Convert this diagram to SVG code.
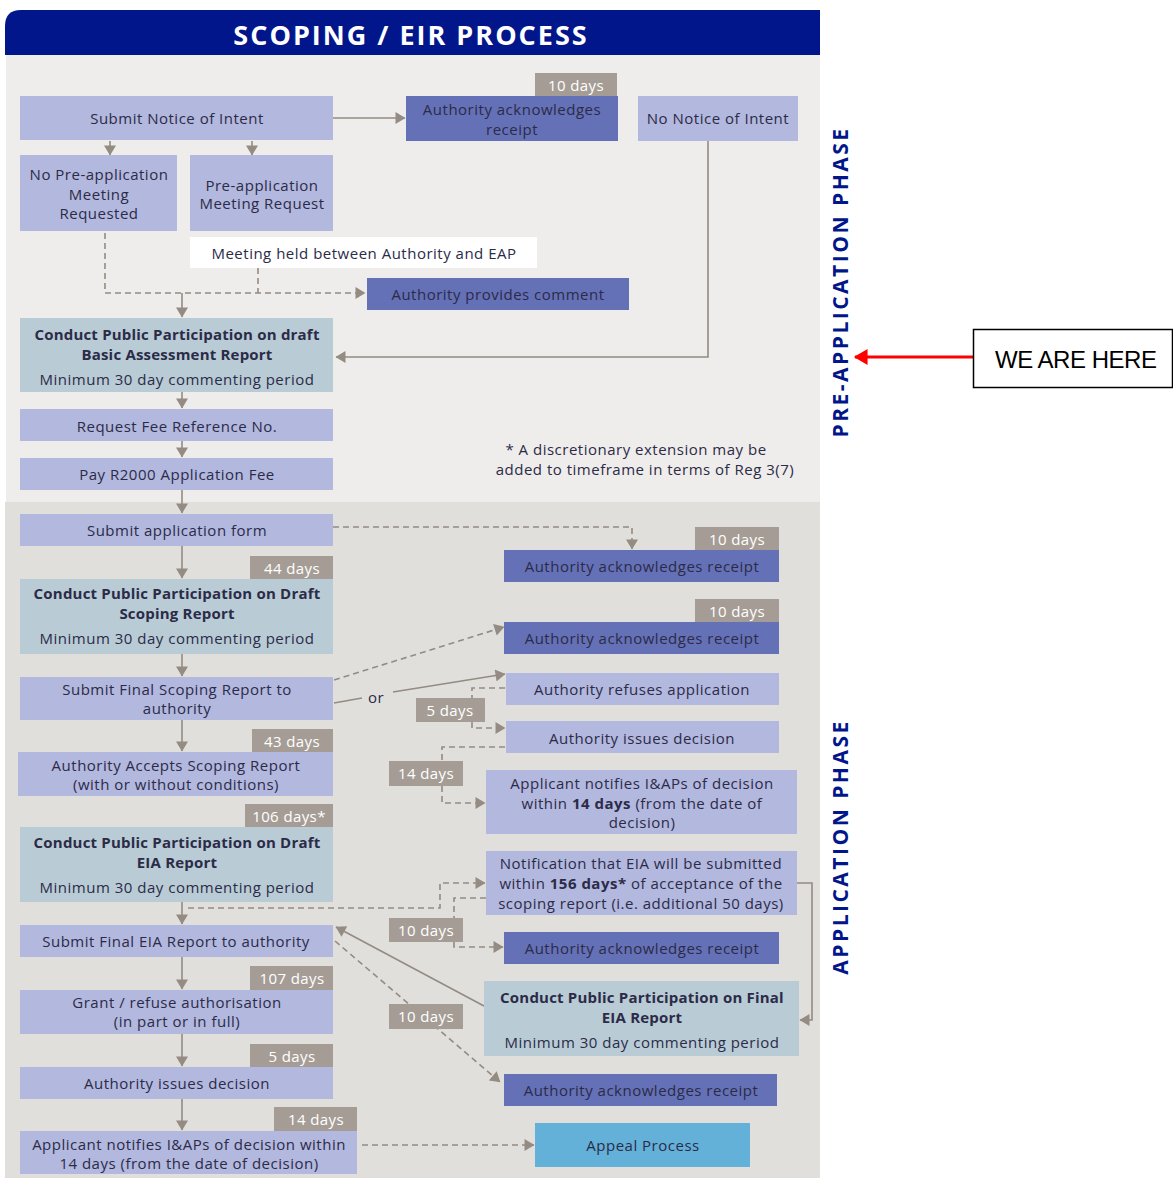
<svg xmlns="http://www.w3.org/2000/svg" width="1173" height="1178" viewBox="0 0 1173 1178">
<defs>
<style>
.t{font-family:"Open Sans","Liberation Sans",sans-serif;font-size:15px;letter-spacing:0.5px;fill:#2b2b48;text-anchor:middle;dominant-baseline:central}
.b{font-weight:bold;letter-spacing:0.2px}
.tag{font-family:"Open Sans","Liberation Sans",sans-serif;font-size:15px;letter-spacing:0.4px;fill:#ffffff;text-anchor:middle;dominant-baseline:central}
.lt{fill:#b3b8de}
.dk{fill:#6571b7}
.bg{fill:#b9cbd5}
.tg{fill:#a59d95}
.s{stroke:#948b82;stroke-width:1.6;fill:none}
.d{stroke:#948b82;stroke-width:1.6;fill:none;stroke-dasharray:6 4}
.ph{font-family:"Open Sans","Liberation Sans",sans-serif;font-weight:bold;font-size:21px;fill:#001689;text-anchor:middle;dominant-baseline:central;letter-spacing:2.5px}
</style>
<marker id="ah" viewBox="0 0 10 12" refX="9.5" refY="6" markerWidth="11" markerHeight="12" markerUnits="userSpaceOnUse" orient="auto">
<path d="M0,0 L10,6 L0,12 z" fill="#948b82"/>
</marker>
<marker id="ar" viewBox="0 0 12 14" refX="11" refY="7" markerWidth="16" markerHeight="16" markerUnits="userSpaceOnUse" orient="auto">
<path d="M0,0 L12,7 L0,14 z" fill="#ff0000"/>
</marker>
</defs>

<rect x="0" y="0" width="1173" height="1178" fill="#ffffff"/>
<g id="panels">
<rect x="6" y="55" width="814" height="447" fill="#efedeb"/>
<rect x="5" y="502" width="815" height="676" fill="#e1dfdc"/>
<path d="M5,55 L5,26 Q5,10 21,10 L820,10 L820,55 Z" fill="#00168a"/>
<text x="411" y="34" font-family="'Open Sans','Liberation Sans',sans-serif" font-weight="bold" font-size="27" fill="#ffffff" text-anchor="middle" dominant-baseline="central" letter-spacing="2">SCOPING / EIR PROCESS</text>
</g>

<g id="connectors">
<line class="s" x1="333" y1="118" x2="405" y2="118" marker-end="url(#ah)"/>
<line class="s" x1="110" y1="141" x2="110" y2="155" marker-end="url(#ah)"/>
<line class="s" x1="252" y1="141" x2="252" y2="155" marker-end="url(#ah)"/>
<polyline class="s" points="708,141 708,357 336,357" marker-end="url(#ah)"/>
<polyline class="d" points="105,233 105,293 365,293" marker-end="url(#ah)"/>
<line class="d" x1="258" y1="268" x2="258" y2="293"/>
<line class="s" x1="182" y1="293" x2="182" y2="317" marker-end="url(#ah)"/>
<line class="s" x1="182" y1="392" x2="182" y2="408" marker-end="url(#ah)"/>
<line class="s" x1="182" y1="441" x2="182" y2="457" marker-end="url(#ah)"/>
<line class="s" x1="182" y1="490" x2="182" y2="513" marker-end="url(#ah)"/>
<line class="s" x1="182" y1="546" x2="182" y2="578" marker-end="url(#ah)"/>
<line class="s" x1="182" y1="654" x2="182" y2="676" marker-end="url(#ah)"/>
<line class="s" x1="182" y1="720" x2="182" y2="751" marker-end="url(#ah)"/>
<line class="s" x1="182" y1="902" x2="182" y2="924" marker-end="url(#ah)"/>
<line class="s" x1="182" y1="957" x2="182" y2="989" marker-end="url(#ah)"/>
<line class="s" x1="182" y1="1034" x2="182" y2="1066" marker-end="url(#ah)"/>
<line class="s" x1="182" y1="1099" x2="182" y2="1130" marker-end="url(#ah)"/>
<polyline class="d" points="333,527 632,527 632,549" marker-end="url(#ah)"/>
<line class="d" x1="334" y1="680" x2="504" y2="627" marker-end="url(#ah)"/>
<line class="s" x1="334" y1="703" x2="362" y2="698"/>
<line class="s" x1="393" y1="692" x2="505" y2="674" marker-end="url(#ah)"/>
<polyline class="d" points="505,688 472,688 472,698"/>
<polyline class="d" points="472,722 472,728 505,728" marker-end="url(#ah)"/>
<polyline class="d" points="505,747 442,747 442,761"/>
<polyline class="d" points="442,786 442,803 485,803" marker-end="url(#ah)"/>
<polyline class="d" points="188,908 440,908 440,883 485,883" marker-end="url(#ah)"/>
<polyline class="d" points="486,898 454,898 454,918"/>
<polyline class="d" points="454,942 454,947 503,947" marker-end="url(#ah)"/>
<polyline class="s" points="797,883 812,883 812,1020 800,1020" marker-end="url(#ah)"/>
<line class="s" x1="484" y1="1006" x2="336" y2="927" marker-end="url(#ah)"/>
<line class="d" x1="335" y1="941" x2="500" y2="1082" marker-end="url(#ah)"/>
<line class="d" x1="362" y1="1145" x2="534" y2="1145" marker-end="url(#ah)"/>
<text class="t" x="376" y="697">or</text>
</g>

<g id="n-submit-noi"><rect class="lt" x="20" y="96" width="313" height="44"/><text class="t" x="177" y="118">Submit Notice of Intent</text></g>
<g id="n-ack1"><rect class="tg" x="535" y="73" width="82" height="23"/><text class="tag" x="576" y="85">10 days</text><rect class="dk" x="406" y="96" width="212" height="45"/><text class="t" x="512" y="109">Authority acknowledges</text><text class="t" x="512" y="129">receipt</text></g>
<g id="n-no-noi"><rect class="lt" x="638" y="96" width="160" height="45"/><text class="t" x="718" y="118">No Notice of Intent</text></g>
<g id="n-no-preapp"><rect class="lt" x="20" y="155" width="157" height="76"/><text class="t" x="99" y="174">No Pre-application</text><text class="t" x="99" y="194">Meeting</text><text class="t" x="99" y="213">Requested</text></g>
<g id="n-preapp"><rect class="lt" x="190" y="155" width="143" height="76"/><text class="t" x="262" y="185">Pre-application</text><text class="t" x="262" y="203">Meeting Request</text></g>
<g id="n-meeting"><rect fill="#ffffff" x="190" y="237" width="347" height="31"/><text class="t" x="364" y="253">Meeting held between Authority and EAP</text></g>
<g id="n-comment"><rect class="dk" x="367" y="278" width="262" height="32"/><text class="t" x="498" y="294">Authority provides comment</text></g>
<g id="n-pp-bar"><rect class="bg" x="20" y="318" width="313" height="74"/><text class="t b" x="177" y="334">Conduct Public Participation on draft</text><text class="t b" x="177" y="354">Basic Assessment Report</text><text class="t" x="177" y="379">Minimum 30 day commenting period</text></g>
<g id="n-fee-ref"><rect class="lt" x="20" y="409" width="313" height="32"/><text class="t" x="177" y="426">Request Fee Reference No.</text></g>
<g id="n-pay"><rect class="lt" x="20" y="458" width="313" height="32"/><text class="t" x="177" y="474">Pay R2000 Application Fee</text></g>
<g id="n-footnote"><text class="t" x="636" y="449">* A discretionary extension may be</text><text class="t" x="645" y="469">added to timeframe in terms of Reg 3(7)</text></g>

<g id="n-app-form"><rect class="lt" x="20" y="514" width="313" height="32"/><text class="t" x="177" y="530">Submit application form</text></g>
<g id="n-ack2"><rect class="tg" x="695" y="527" width="84" height="23"/><text class="tag" x="737" y="539">10 days</text><rect class="dk" x="504" y="550" width="275" height="32"/><text class="t" x="642" y="566">Authority acknowledges receipt</text></g>
<g id="n-pp-scoping"><rect class="tg" x="250" y="556" width="83" height="23"/><text class="tag" x="292" y="568">44 days</text><rect class="bg" x="20" y="579" width="313" height="75"/><text class="t b" x="177" y="593">Conduct Public Participation on Draft</text><text class="t b" x="177" y="613">Scoping Report</text><text class="t" x="177" y="638">Minimum 30 day commenting period</text></g>
<g id="n-ack3"><rect class="tg" x="695" y="599" width="84" height="23"/><text class="tag" x="737" y="611">10 days</text><rect class="dk" x="504" y="622" width="275" height="32"/><text class="t" x="642" y="638">Authority acknowledges receipt</text></g>
<g id="n-final-scoping"><rect class="lt" x="20" y="677" width="313" height="43"/><text class="t" x="177" y="689">Submit Final Scoping Report to</text><text class="t" x="177" y="708">authority</text></g>
<g id="n-refuses"><rect class="lt" x="506" y="673" width="273" height="32"/><text class="t" x="642" y="689">Authority refuses application</text></g>
<g id="t-5days"><rect class="tg" x="416" y="698" width="69" height="24"/><text class="tag" x="450" y="710">5 days</text></g>
<g id="n-issues1"><rect class="lt" x="506" y="721" width="273" height="32"/><text class="t" x="642" y="738">Authority issues decision</text></g>
<g id="t-14days"><rect class="tg" x="389" y="761" width="74" height="25"/><text class="tag" x="426" y="773">14 days</text></g>
<g id="n-notify1"><rect class="lt" x="486" y="770" width="311" height="64"/><text class="t" x="642" y="783">Applicant notifies I&amp;APs of decision</text><text class="t" x="642" y="803">within <tspan font-weight="bold">14 days</tspan> (from the date of</text><text class="t" x="642" y="822">decision)</text></g>
<g id="n-accepts"><rect class="tg" x="252" y="729" width="81" height="23"/><text class="tag" x="292" y="741">43 days</text><rect class="lt" x="18" y="752" width="315" height="44"/><text class="t" x="176" y="765">Authority Accepts Scoping Report</text><text class="t" x="176" y="784">(with or without conditions)</text></g>
<g id="n-pp-draft-eia"><rect class="tg" x="245" y="804" width="88" height="25"/><text class="tag" x="289" y="816">106 days*</text><rect class="bg" x="20" y="827" width="313" height="75"/><text class="t b" x="177" y="842">Conduct Public Participation on Draft</text><text class="t b" x="177" y="862">EIA Report</text><text class="t" x="177" y="887">Minimum 30 day commenting period</text></g>
<g id="n-notification"><rect class="lt" x="486" y="851" width="311" height="64"/><text class="t" x="641" y="863">Notification that EIA will be submitted</text><text class="t" x="641" y="883">within <tspan font-weight="bold">156 days*</tspan> of acceptance of the</text><text class="t" x="641" y="903">scoping report (i.e. additional 50 days)</text></g>
<g id="n-final-eia"><rect class="lt" x="20" y="925" width="313" height="32"/><text class="t" x="176" y="941">Submit Final EIA Report to authority</text></g>
<g id="t-10a"><rect class="tg" x="389" y="918" width="74" height="24"/><text class="tag" x="426" y="930">10 days</text></g>
<g id="n-ack4"><rect class="dk" x="504" y="932" width="275" height="32"/><text class="t" x="642" y="948">Authority acknowledges receipt</text></g>
<g id="n-pp-final-eia"><rect class="bg" x="484" y="981" width="315" height="75"/><text class="t b" x="642" y="997">Conduct Public Participation on Final</text><text class="t b" x="642" y="1017">EIA Report</text><text class="t" x="642" y="1042">Minimum 30 day commenting period</text></g>
<g id="t-10b"><rect class="tg" x="389" y="1004" width="74" height="25"/><text class="tag" x="426" y="1016">10 days</text></g>
<g id="n-ack5"><rect class="dk" x="504" y="1074" width="273" height="32"/><text class="t" x="641" y="1090">Authority acknowledges receipt</text></g>
<g id="n-grant"><rect class="tg" x="250" y="966" width="83" height="24"/><text class="tag" x="292" y="978">107 days</text><rect class="lt" x="20" y="990" width="313" height="44"/><text class="t" x="177" y="1002">Grant / refuse authorisation</text><text class="t" x="177" y="1021">(in part or in full)</text></g>
<g id="n-issues2"><rect class="tg" x="250" y="1044" width="83" height="24"/><text class="tag" x="292" y="1056">5 days</text><rect class="lt" x="20" y="1067" width="313" height="32"/><text class="t" x="177" y="1083">Authority issues decision</text></g>
<g id="n-notify2"><rect class="tg" x="274" y="1107" width="83" height="24"/><text class="tag" x="316" y="1119">14 days</text><rect class="lt" x="20" y="1131" width="337" height="43"/><text class="t" x="189" y="1144">Applicant notifies I&amp;APs of decision within</text><text class="t" x="189" y="1163">14 days (from the date of decision)</text></g>
<g id="n-appeal"><rect fill="#63b1d8" x="535" y="1123" width="215" height="44"/><text class="t" x="643" y="1145">Appeal Process</text></g>

<g id="phases">
<text class="ph" transform="translate(840,282) rotate(-90)">PRE-APPLICATION PHASE</text>
<text class="ph" transform="translate(840,847) rotate(-90)">APPLICATION PHASE</text>
</g>

<g id="n-we-are-here">
<line x1="973" y1="357" x2="855" y2="357" stroke="#ff0000" stroke-width="3" marker-end="url(#ar)"/>
<rect x="973.5" y="329.5" width="199" height="58" fill="#ffffff" stroke="#000000" stroke-width="1.5"/>
<text x="995" y="359" font-family="'Liberation Sans',sans-serif" font-size="24" fill="#000000" dominant-baseline="central" textLength="162" lengthAdjust="spacing">WE ARE HERE</text>
</g>
</svg>
